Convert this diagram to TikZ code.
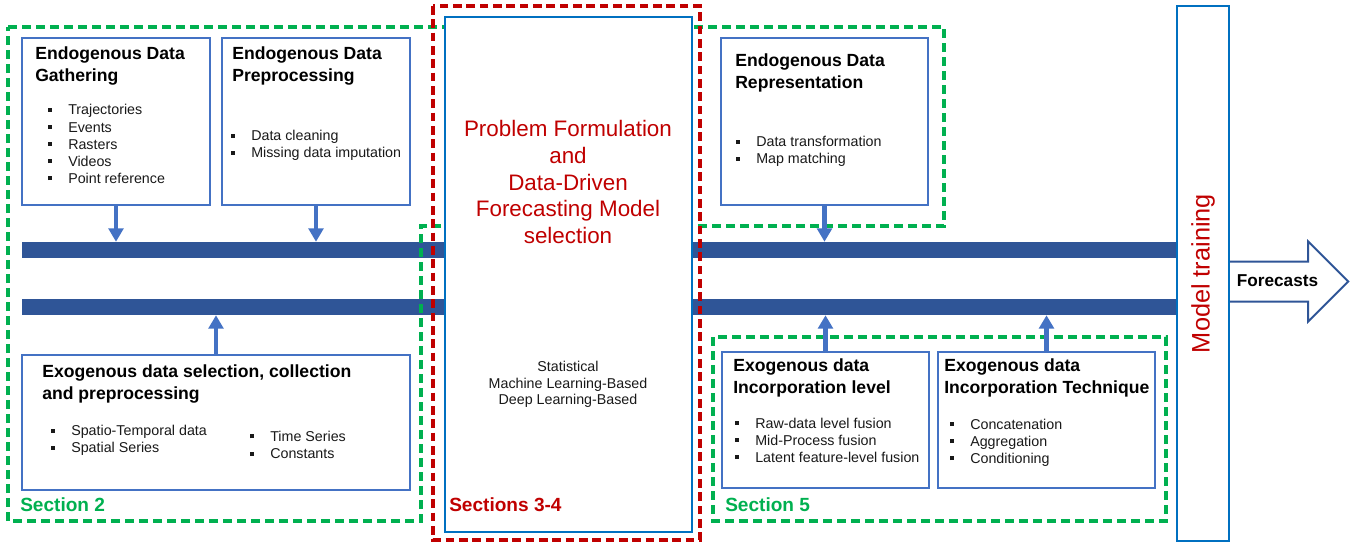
\documentclass[tikz,border=0pt]{standalone}
\usepackage{fontspec}
\setmainfont{Liberation Sans}
\usetikzlibrary{positioning,fit,arrows.meta}

\definecolor{boxblue}{HTML}{4472C4}
\definecolor{bardark}{HTML}{2F5597}
\definecolor{ctrblue}{HTML}{0070C0}
\definecolor{secgreen}{HTML}{00B050}
\definecolor{secred}{HTML}{C00000}

\newcommand{\sq}{\rule[0.22em]{3pt}{3pt}\hspace{12pt}}

\tikzset{
  box/.style={draw=boxblue, line width=1.8pt, fill=white, inner sep=0pt},
  ctr/.style={draw=ctrblue, line width=1.8pt, fill=white, inner sep=0pt},
  bar/.style={fill=bardark, inner sep=0pt},
  sect/.style={draw=secgreen, line width=2.6pt, dash pattern=on 7pt off 3.5pt},
  redsect/.style={draw=secred, line width=3pt, dash pattern=on 6.5pt off 3.5pt},
  arr/.style={draw=boxblue, line width=3.5pt, -{Triangle[width=11pt,length=10pt]}},
  head/.style={anchor=west, align=left, inner sep=0pt, font=\fontsize{13.2}{16.5}\selectfont\bfseries},
  lst/.style={anchor=west, align=left, inner sep=0pt, font=\fontsize{10.7}{12.8}\selectfont, text=black!90},
  tag/.style={anchor=west, inner sep=0pt, font=\fontsize{14.3}{17}\selectfont\bfseries},
  fcarrow/.style={draw=bardark, line width=1.5pt, fill=white, line join=miter}
}

\begin{document}
\begin{tikzpicture}[x=0.75pt, y=-0.75pt]
    \useasboundingbox (0,0) rectangle (1356,543);

    % data bars
    \node[bar, fit={(22,242)(1178,258)}] (bartop) {};
    \node[bar, fit={(22,299)(1178,315)}] (barbot) {};

    % section frames (green)
    \draw[sect] (8,27) -- (944,27) -- (944,226) -- (421,226) -- (421,521) -- (8,521) -- cycle;
    \draw[sect] (713,337) rectangle (1166,521);

    % endogenous boxes
    \node[box, fit={(22,38)(210,205)}] (gath) {};
    \node[box, fit={(222,38)(410,205)}] (prep) {};
    \node[box, fit={(721,38)(928,205)}] (rep) {};
    \node[head] (gathhd) at (35,66) {Endogenous Data\\Gathering};
    \node[head] (prephd) at (232,66) {Endogenous Data\\Preprocessing};
    \node[head] (rephd) at (735,73) {Endogenous Data\\Representation};
    \node[lst] (gathlst) at (48,144) {\sq Trajectories\\\sq Events\\\sq Rasters\\\sq Videos\\\sq Point reference};
    \node[lst] (preplst) at (231,145.5) {\sq Data cleaning\\\sq Missing data imputation};
    \node[lst] (replst) at (736,151.5) {\sq Data transformation\\\sq Map matching};

    % exogenous boxes
    \node[box, fit={(22,355)(410,490)}] (exo) {};
    \node[box, fit={(722,352)(929,488)}] (lvl) {};
    \node[box, fit={(938,352)(1155,488)}] (tech) {};
    \node[head] (exohd) at (42,384) {Exogenous data selection, collection\\and preprocessing};
    \node[head] (lvlhd) at (733,377.5) {Exogenous data\\Incorporation level};
    \node[head] (techhd) at (944,377.5) {Exogenous data\\Incorporation Technique};
    \node[lst] (exolsta) at (51,440.5) {\sq Spatio-Temporal data\\\sq Spatial Series};
    \node[lst] (exolstb) at (250,445) {\sq Time Series\\\sq Constants};
    \node[lst] (lvllst) at (735,440) {\sq Raw-data level fusion\\\sq Mid-Process fusion\\\sq Latent feature-level fusion};
    \node[lst] (techlst) at (950,442.5) {\sq Concatenation\\\sq Aggregation\\\sq Conditioning};

    % arrows to the bars
    \draw[arr] (gath.south) -- (gath.south |- bartop.north);
    \draw[arr] (prep.south) -- (prep.south |- bartop.north);
    \draw[arr] (rep.south) -- (rep.south |- bartop.north);
    \draw[arr] (exo.north) -- (exo.north |- barbot.south);
    \draw[arr] (lvl.north) -- (lvl.north |- barbot.south);
    \draw[arr] (tech.north) -- (tech.north |- barbot.south);

    % problem formulation
    \node[ctr, fit={(445,17)(692,532)}] (pf) {};
    \draw[redsect] (433,6) rectangle (700,540);
    \node[font=\fontsize{16.8}{20.2}\selectfont, text=secred, align=center] (pftitle) at (568,182)
        {Problem Formulation\\and\\Data-Driven\\Forecasting Model\\selection};
    \node[font=\fontsize{10.7}{12.4}\selectfont, text=black!90, align=center] (pfsub) at (568,384.5)
        {Statistical\\Machine Learning-Based\\Deep Learning-Based};

    % model training and output
    \node[ctr, fit={(1177,6)(1229,541)}] (mt) {};
    \node[rotate=90, text=secred, font=\fontsize{19}{22}\selectfont] (mtlbl) at (mt.center) {Model training};
    \coordinate (fcstart) at (mt.east |- 0,281);
    \draw[fcarrow] (fcstart) ++(0,-19.5) -- ++(78,0) -- ++(0,-20) -- ++(40,40)
        -- ++(-40,40) -- ++(0,-20) -- ++(-78,0);
    \node[font=\fontsize{12.9}{15}\selectfont\bfseries] (fctxt) at (1277.5,281) {Forecasts};

    % section labels
    \node[tag, text=secgreen] (s2) at (20,505) {Section 2};
    \node[tag, text=secred] (s34) at (449,505) {Sections 3-4};
    \node[tag, text=secgreen] (s5) at (725,505) {Section 5};
\end{tikzpicture}
\end{document}
